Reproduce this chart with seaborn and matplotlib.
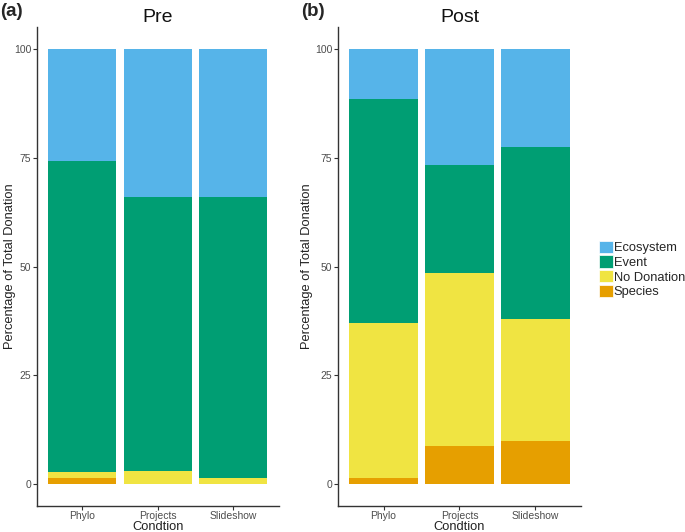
import matplotlib
matplotlib.use("Agg")
import matplotlib.pyplot as plt
import seaborn as sns
import numpy as np
import pandas as pd
from matplotlib.patches import Patch

sns.set_theme(style="white")
plt.rcParams['font.family'] = ['Liberation Sans', 'DejaVu Sans']

conditions = ["Phylo", "Projects", "Slideshow"]
categories = ["Ecosystem", "Event", "No Donation", "Species"]
colors = {"Ecosystem": "#56B4E9", "Event": "#009E73",
          "No Donation": "#F0E442", "Species": "#E69F00"}

# Percent values (bottom-up order: Species, No Donation, Event, Ecosystem)
pre_species = [1.4, 0.0, 0.0]
pre_nodonation = [1.4, 3.0, 1.4]
pre_event = [71.5, 63.0, 64.6]
pre_ecosystem = [25.7, 34.0, 34.0]

post_species = [1.4, 8.8, 9.8]
post_nodonation = [35.7, 39.7, 28.1]
post_event = [51.4, 24.9, 39.5]
post_ecosystem = [11.5, 26.6, 22.6]

panels = [
    ("Pre", pre_species, pre_nodonation, pre_event, pre_ecosystem),
    ("Post", post_species, post_nodonation, post_event, post_ecosystem),
]

fig = plt.figure(figsize=(6.85, 5.32), dpi=100)
ax_pos = [[0.054, 0.0493, 0.3527, 0.8995], [0.4934, 0.0493, 0.3547, 0.8995]]
ylabel_x = [-0.087, -0.102]

for (title, sp, nd, ev, eco), pos, ylx in zip(panels, ax_pos, ylabel_x):
    ax = fig.add_axes(pos)
    sp = np.array(sp); nd = np.array(nd); ev = np.array(ev); eco = np.array(eco)
    tops = {
        "Ecosystem": sp + nd + ev + eco,
        "Event": sp + nd + ev,
        "No Donation": sp + nd,
        "Species": sp,
    }
    for cat in categories:
        df = pd.DataFrame({"Condition": conditions, "value": tops[cat]})
        sns.barplot(data=df, x="Condition", y="value", color=colors[cat],
                    width=0.9, saturation=1, ax=ax, linewidth=0)
    ax.set_xlim(-0.6, 2.6)
    ax.set_ylim(-5, 105)
    ax.set_yticks([0, 25, 50, 75, 100])
    ax.set_yticklabels(["0", "25", "50", "75", "100"])
    ax.tick_params(axis='both', which='both', length=3, width=0.8,
                   color='#333333', labelsize=7.5, labelcolor='#4d4d4d',
                   left=True, bottom=True, pad=1.0)
    for s in ["top", "right"]:
        ax.spines[s].set_visible(False)
    for s in ["left", "bottom"]:
        ax.spines[s].set_color('#333333')
        ax.spines[s].set_linewidth(1.0)
    ax.set_xlabel("Condtion", fontsize=9.3, color='#222222')
    ax.xaxis.set_label_coords(0.5, -0.0325)
    ax.set_ylabel("Percentage of Total Donation", fontsize=9.3, color='#222222')
    ax.yaxis.set_label_coords(ylx, 0.5)
    ax.set_title(title, fontsize=14, color='#111111', pad=4)

fig.text(0.0, 0.979, "(a)", fontsize=13.5, fontweight='bold', ha='left', va='center')
fig.text(0.44, 0.979, "(b)", fontsize=13.5, fontweight='bold', ha='left', va='center')

handles = [Patch(facecolor=colors[c], edgecolor='white', linewidth=0.5, label=c)
           for c in categories]
fig.legend(handles=handles, loc='center left', bbox_to_anchor=(0.8745, 0.4934),
           frameon=False, fontsize=9.3, handlelength=1.05, handleheight=1.08,
           handletextpad=0.1, labelspacing=0.1, borderpad=0, borderaxespad=0)

fig.savefig("out.png", dpi=100)
